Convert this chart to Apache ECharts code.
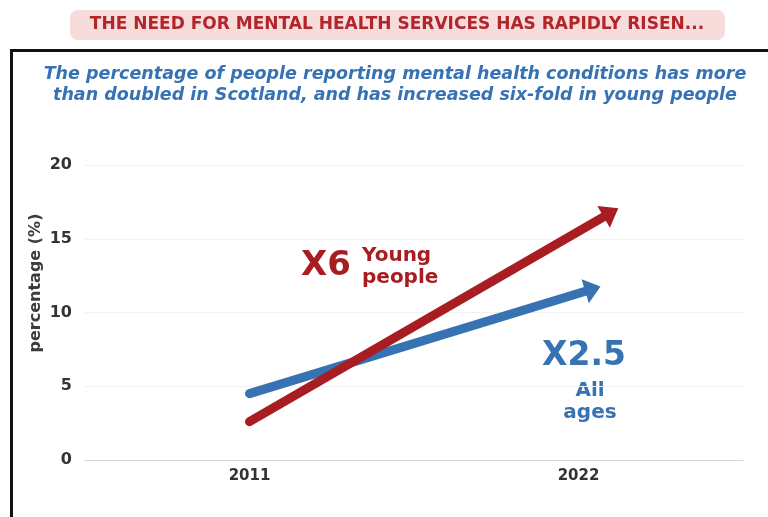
<!DOCTYPE html>
<html><head><meta charset="utf-8">
<script src="https://cdn.jsdelivr.net/npm/echarts@6/dist/echarts.min.js"></script>
<style>html,body{margin:0;padding:0;background:#fff}#c{width:768px;height:517px}</style>
</head><body><div id="c"></div>
<script>
const categories = ['2011', '2022'];
const youngPeople = [2.6, 15.5];
const allAges = [4.5, 11.3];
const yTicks = [0, 5, 10, 15, 20];

const RED = '#a81d21';
const BLUE = '#3772b2';
const FONT = '"DejaVu Sans", "Open Sans", sans-serif';

function arrowRenderer(color, overshoot, headLen, headW, lw) {
  return function (params, api) {
    const p0 = api.coord([0, api.value(0)]);
    const p1 = api.coord([1, api.value(1)]);
    const dx = p1[0] - p0[0], dy = p1[1] - p0[1];
    const L = Math.sqrt(dx * dx + dy * dy);
    const ux = dx / L, uy = dy / L;
    const tip = [p1[0] + ux * overshoot, p1[1] + uy * overshoot];
    const base = [tip[0] - ux * headLen, tip[1] - uy * headLen];
    const nx = -uy, ny = ux;
    return {
      type: 'group',
      children: [
        { type: 'line', shape: { x1: p0[0], y1: p0[1], x2: base[0] + ux * 2, y2: base[1] + uy * 2 },
          style: { stroke: color, lineWidth: lw, lineCap: 'round' } },
        { type: 'polygon', shape: { points: [tip,
            [base[0] + nx * headW / 2, base[1] + ny * headW / 2],
            [base[0] - nx * headW / 2, base[1] - ny * headW / 2]] },
          style: { fill: color } }
      ]
    };
  };
}

const chart = echarts.init(document.getElementById('c'));
chart.setOption({
  animation: false,
  grid: { left: 85, right: 25, top: 165, bottom: 57 },
  xAxis: {
    type: 'category', data: categories, boundaryGap: true,
    axisLine: { lineStyle: { color: '#d4d4d4' } },
    axisTick: { show: false },
    axisLabel: { color: '#333', fontWeight: 'bold', fontSize: 15, fontFamily: FONT, margin: 9 }
  },
  yAxis: {
    type: 'value', min: 0, max: 20, interval: 5,
    axisLine: { show: false }, axisTick: { show: false },
    axisLabel: { color: '#333', fontWeight: 'bold', fontSize: 16, fontFamily: FONT, margin: 13,
      formatter: v => yTicks.includes(v) ? String(v) : '' },
    splitLine: { lineStyle: { color: '#f1f1f1' } }
  },
  series: [
    { type: 'custom', name: 'All ages', data: [allAges], encode: { x: -1, y: [0, 1] },
      renderItem: arrowRenderer(BLUE, 23, 16, 25, 9), z: 2 },
    { type: 'custom', name: 'Young people', data: [youngPeople], encode: { x: -1, y: [0, 1] },
      renderItem: arrowRenderer(RED, 46, 17, 25, 9), z: 3 }
  ],
  graphic: [
    { type: 'rect', shape: { x: 70, y: 10, width: 655, height: 30, r: 8 }, style: { fill: '#f7dcdc' }, z: 0 },
    { type: 'text', x: 397, y: 25, style: { text: 'THE NEED FOR MENTAL HEALTH SERVICES HAS RAPIDLY RISEN...',
        fill: '#b3252a', font: 'bold 17px ' + FONT, align: 'center', verticalAlign: 'middle' }, z: 1 },
    { type: 'rect', shape: { x: 11.5, y: 50.5, width: 800, height: 600 }, style: { fill: 'none', stroke: '#111', lineWidth: 3 } },
    { type: 'text', x: 395, y: 85, style: {
        text: 'The percentage of people reporting mental health conditions has more\nthan doubled in Scotland, and has increased six-fold in young people',
        fill: BLUE, font: 'italic bold 17.5px ' + FONT, align: 'center', verticalAlign: 'middle', lineHeight: 21 } },
    { type: 'text', x: 36, y: 283, rotation: Math.PI / 2, style: { text: 'percentage (%)',
        fill: '#3c3c3c', font: 'bold 16px ' + FONT, align: 'center', verticalAlign: 'middle' } },
    { type: 'text', x: 326, y: 266, style: { text: 'X6', fill: RED, font: 'bold 34px ' + FONT, align: 'center', verticalAlign: 'middle' } },
    { type: 'text', x: 362, y: 267, style: { text: 'Young\npeople', fill: RED, font: 'bold 20px ' + FONT, align: 'left', verticalAlign: 'middle', lineHeight: 22 } },
    { type: 'text', x: 584, y: 356, style: { text: 'X2.5', fill: BLUE, font: 'bold 33px ' + FONT, align: 'center', verticalAlign: 'middle' } },
    { type: 'text', x: 590, y: 402, style: { text: 'All\nages', fill: BLUE, font: 'bold 20px ' + FONT, align: 'center', verticalAlign: 'middle', lineHeight: 22 } }
  ]
});
</script></body></html>
